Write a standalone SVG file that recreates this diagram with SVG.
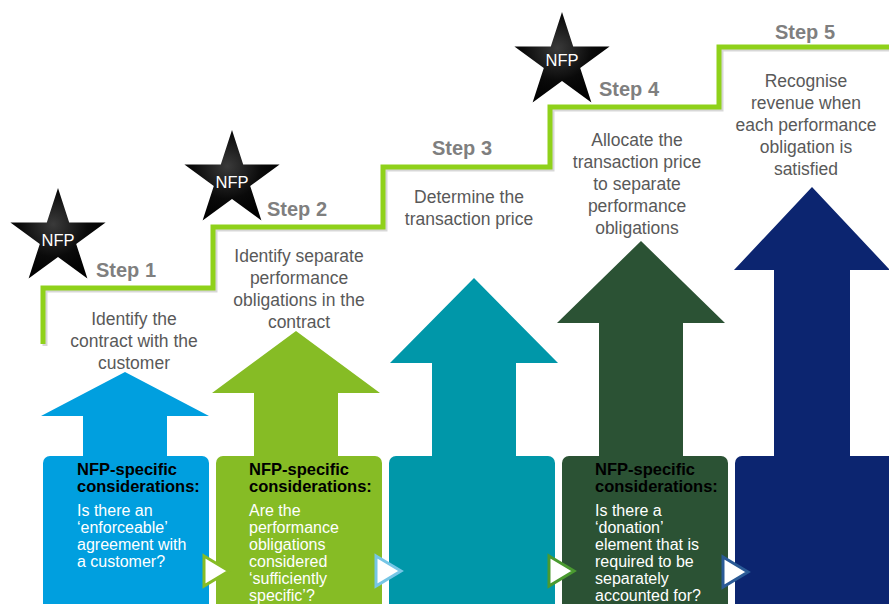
<svg xmlns="http://www.w3.org/2000/svg" width="889" height="604" viewBox="0 0 889 604">
<defs>
  <radialGradient id="starG" cx="0.45" cy="0.4" r="0.6">
    <stop offset="0" stop-color="#3a3a3a"/>
    <stop offset="0.6" stop-color="#0a0a0a"/>
    <stop offset="1" stop-color="#000"/>
  </radialGradient>
  <polygon id="star" points="0,-50 11.2,-15.5 47.6,-15.5 18.2,5.9 29.4,40.5 0,19.1 -29.4,40.5 -18.2,5.9 -47.6,-15.5 -11.2,-15.5"/>
  <polygon id="play" points="0,0 25,15 0,30"/>
</defs>
<style>
  .step { font-family: "Liberation Sans", Arial, sans-serif; font-weight: bold; font-size: 20px; fill: #7f7f7f; }
  .desc { font-family: "Liberation Sans", Arial, sans-serif; font-size: 17.5px; fill: #595959; text-anchor: middle; }
  .hd { font-family: "Liberation Sans", Arial, sans-serif; font-weight: bold; font-size: 16.5px; fill: #000; }
  .q { font-family: "Liberation Sans", Arial, sans-serif; font-size: 16px; fill: #fff; }
  .nfp { font-family: "Liberation Sans", Arial, sans-serif; font-size: 16.5px; fill: #fff; text-anchor: middle; }
  .play { fill: #fff; stroke-width: 3; stroke-linejoin: miter; }
</style>
<rect width="889" height="604" fill="#fff"/>

<g id="connectors">
  <polyline points="45,346 45,290 215,290 215,229 385,229 385,169 552,169 552,109 721,109 721,49 889,49" fill="none" stroke="#b0b0b0" stroke-width="5" opacity="0.5"/>
  <polyline points="43,344 43,288 213,288 213,227 383,227 383,167 550,167 550,107 719,107 719,47 889,47" fill="none" stroke="#8fd11a" stroke-width="5"/>
</g>

<g id="step1">
  <polygon points="125,372 209,416 167,416 167,460 83,460 83,416 41,416" fill="#009fdf"/>
  <rect x="43" y="456" width="166" height="160" rx="7" fill="#009fdf"/>
  <text class="step" x="96" y="277">Step 1</text>
  <text class="desc"><tspan x="134" y="325">Identify the</tspan><tspan x="134" y="347">contract with the</tspan><tspan x="134" y="369">customer</tspan></text>
  <text class="hd"><tspan x="77" y="475">NFP-specific</tspan><tspan x="77" y="492">considerations:</tspan></text>
  <text class="q"><tspan x="77" y="516">Is there an</tspan><tspan x="77" y="533">‘enforceable’</tspan><tspan x="77" y="550">agreement with</tspan><tspan x="77" y="567">a customer?</tspan></text>
</g>

<g id="nfp1">
  <use href="#star" x="58" y="238" fill="url(#starG)"/>
  <text class="nfp" x="58" y="246">NFP</text>
</g>

<g id="step2">
  <polygon points="296,331 380,393 338,393 338,460 254,460 254,393 212,393" fill="#86bc25"/>
  <rect x="216" y="456" width="166" height="160" rx="7" fill="#86bc25"/>
  <text class="step" x="267" y="216">Step 2</text>
  <text class="desc"><tspan x="299" y="262">Identify separate</tspan><tspan x="299" y="284">performance</tspan><tspan x="299" y="306">obligations in the</tspan><tspan x="299" y="328">contract</tspan></text>
  <text class="hd"><tspan x="249" y="475">NFP-specific</tspan><tspan x="249" y="492">considerations:</tspan></text>
  <text class="q"><tspan x="249" y="516">Are the</tspan><tspan x="249" y="533">performance</tspan><tspan x="249" y="550">obligations</tspan><tspan x="249" y="567">considered</tspan><tspan x="249" y="584">‘sufficiently</tspan><tspan x="249" y="601">specific’?</tspan></text>
</g>

<g id="nfp2">
  <use href="#star" x="232" y="180" fill="url(#starG)"/>
  <text class="nfp" x="232" y="188">NFP</text>
</g>

<g id="step3">
  <polygon points="474,278 558,363 516,363 516,460 432,460 432,363 390,363" fill="#0097a9"/>
  <rect x="389" y="456" width="166" height="160" rx="7" fill="#0097a9"/>
  <text class="step" x="432" y="155">Step 3</text>
  <text class="desc"><tspan x="469" y="203">Determine the</tspan><tspan x="469" y="225">transaction price</tspan></text>
</g>

<g id="step4">
  <polygon points="641,241 725,323 683,323 683,460 599,460 599,323 557,323" fill="#2b5234"/>
  <rect x="562" y="456" width="166" height="160" rx="7" fill="#2b5234"/>
  <text class="step" x="599" y="96">Step 4</text>
  <text class="desc"><tspan x="637" y="146">Allocate the</tspan><tspan x="637" y="168">transaction price</tspan><tspan x="637" y="190">to separate</tspan><tspan x="637" y="212">performance</tspan><tspan x="637" y="234">obligations</tspan></text>
  <text class="hd"><tspan x="595" y="475">NFP-specific</tspan><tspan x="595" y="492">considerations:</tspan></text>
  <text class="q"><tspan x="595" y="516">Is there a</tspan><tspan x="595" y="533">‘donation’</tspan><tspan x="595" y="550">element that is</tspan><tspan x="595" y="567">required to be</tspan><tspan x="595" y="584">separately</tspan><tspan x="595" y="601">accounted for?</tspan></text>
</g>

<g id="nfp3">
  <use href="#star" x="562" y="62" fill="url(#starG)"/>
  <text class="nfp" x="562" y="66">NFP</text>
</g>

<g id="step5">
  <polygon points="812,187 890,270 850,270 850,460 774,460 774,270 734,270" fill="#0c2570"/>
  <rect x="735" y="456" width="166" height="160" rx="7" fill="#0c2570"/>
  <text class="step" x="775" y="39">Step 5</text>
  <text class="desc"><tspan x="806" y="87">Recognise</tspan><tspan x="806" y="109">revenue when</tspan><tspan x="806" y="131">each performance</tspan><tspan x="806" y="153">obligation is</tspan><tspan x="806" y="175">satisfied</tspan></text>
</g>

<g id="play1"><use href="#play" x="204" y="556" class="play" stroke="#86bc25"/></g>
<g id="play2"><use href="#play" x="376" y="556" class="play" stroke="#76c6e6"/></g>
<g id="play3"><use href="#play" x="549" y="556" class="play" stroke="#4a9a30"/></g>
<g id="play4"><use href="#play" x="723" y="557" class="play" stroke="#2a5a96"/></g>
</svg>
